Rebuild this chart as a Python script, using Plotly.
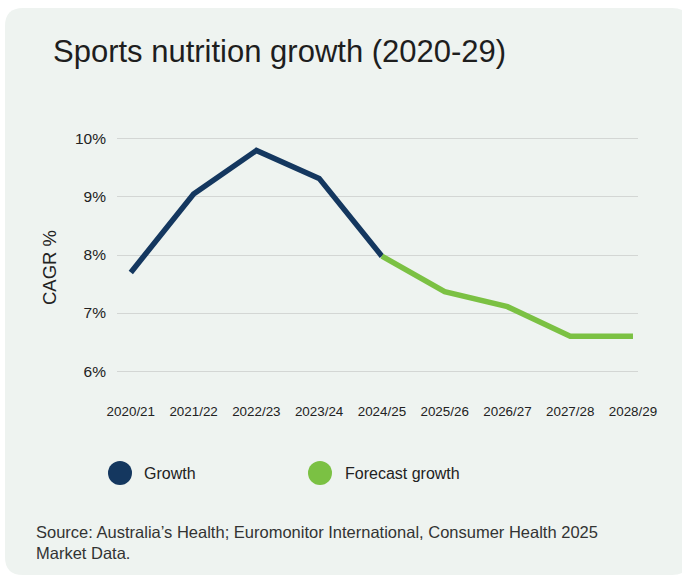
import plotly.graph_objects as go

# Financial-year labels and CAGR (%) values
years = ["2020/21", "2021/22", "2022/23", "2023/24", "2024/25",
         "2025/26", "2026/27", "2027/28", "2028/29"]
growth_years = years[:5]
growth_values = [7.7, 9.05, 9.8, 9.32, 7.98]
forecast_years = years[4:]
forecast_values = [7.98, 7.37, 7.11, 6.6, 6.6]
y_ticks = [6, 7, 8, 9, 10]
y_tick_labels = ["6%", "7%", "8%", "9%", "10%"]

W, H = 682, 577
Y_MIN, Y_MAX = 5.95, 10.05
# pixel rows of the 10% and 6% gridlines
Y10, Y6 = 139, 371
per_unit = (Y6 - Y10) / 4.0
top_px = Y10 - (Y_MAX - 10) * per_unit
bot_px = Y6 + (6 - Y_MIN) * per_unit
ML, MR = 117, 44
MT, MB = round(top_px), round(H - bot_px)
PW, PH = W - ML - MR, H - MT - MB

NAVY = "#14375f"
GREEN = "#7bc143"
CARD = "#eef3f0"
TEXT = "#222222"
FONT = "Liberation Sans, Arial, sans-serif"


def px(x):
    return (x - ML) / PW


def py(y):
    return (H - MB - y) / PH


fig = go.Figure()
fig.add_trace(go.Scatter(x=growth_years, y=growth_values, mode="lines",
                         line=dict(color=NAVY, width=5.5), name="Growth",
                         showlegend=False))
fig.add_trace(go.Scatter(x=forecast_years, y=forecast_values, mode="lines",
                         line=dict(color=GREEN, width=5.5), name="Forecast growth",
                         showlegend=False))

# Rounded card behind the chart
x0, x1, y0, y1, r = 5, 690, 8, 575, 18
def pt(x, y):
    return f"{px(x):.5f},{py(y):.5f}"
card_path = (f"M {pt(x0 + r, y0)} L {pt(x1 - r, y0)} Q {pt(x1, y0)} {pt(x1, y0 + r)} "
             f"L {pt(x1, y1 - r)} Q {pt(x1, y1)} {pt(x1 - r, y1)} "
             f"L {pt(x0 + r, y1)} Q {pt(x0, y1)} {pt(x0, y1 - r)} "
             f"L {pt(x0, y0 + r)} Q {pt(x0, y0)} {pt(x0 + r, y0)} Z")
fig.add_shape(type="path", path=card_path, xref="paper", yref="paper",
              fillcolor=CARD, line=dict(width=0), layer="below")

# Legend markers
for cx, color in [(120, NAVY), (320, GREEN)]:
    fig.add_shape(type="circle", xref="paper", yref="paper",
                  xsizemode="pixel", ysizemode="pixel",
                  xanchor=px(cx), yanchor=py(473),
                  x0=-12, x1=12, y0=-12, y1=12,
                  fillcolor=color, line=dict(width=0))

fig.add_annotation(text="Sports nutrition growth (2020-29)", x=px(51), y=py(52),
                   xref="paper", yref="paper", xanchor="left", yanchor="middle",
                   showarrow=False, font=dict(size=31, color="#1e1e1e", family=FONT))
fig.add_annotation(text="CAGR %", x=px(49), y=py(268), textangle=-90,
                   xref="paper", yref="paper", xanchor="center", yanchor="middle",
                   showarrow=False, font=dict(size=18.5, color=TEXT, family=FONT))
fig.add_annotation(text="Growth", x=px(142), y=py(473), xref="paper", yref="paper",
                   xanchor="left", yanchor="middle", showarrow=False,
                   font=dict(size=16, color=TEXT, family=FONT))
fig.add_annotation(text="Forecast growth", x=px(343), y=py(473), xref="paper",
                   yref="paper", xanchor="left", yanchor="middle", showarrow=False,
                   font=dict(size=16, color=TEXT, family=FONT))
fig.add_annotation(text="Source: Australia\u2019s Health; Euromonitor International, "
                        "Consumer Health 2025<br>Market Data.",
                   x=px(34), y=py(542), xref="paper", yref="paper",
                   xanchor="left", yanchor="middle", align="left", showarrow=False,
                   font=dict(size=16.5, color="#333333", family=FONT))

fig.update_layout(
    width=W, height=H,
    margin=dict(l=ML, r=MR, t=MT, b=MB),
    paper_bgcolor="white", plot_bgcolor="rgba(0,0,0,0)",
    showlegend=False,
    font=dict(family=FONT, color=TEXT),
)
fig.update_xaxes(type="category", categoryorder="array", categoryarray=years,
                 range=[-0.22, 8.08], showgrid=False, zeroline=False,
                 showline=False, ticks="", ticklabelstandoff=28,
                 tickfont=dict(size=13.4, color=TEXT, family=FONT))
fig.update_yaxes(range=[Y_MIN, Y_MAX], tickvals=y_ticks, ticktext=y_tick_labels,
                 showgrid=True, gridcolor="#d3d6d4", gridwidth=1, zeroline=False,
                 showline=False, ticks="", ticklabelstandoff=10,
                 tickfont=dict(size=15.5, color=TEXT, family=FONT))

fig.write_html("out.html")
